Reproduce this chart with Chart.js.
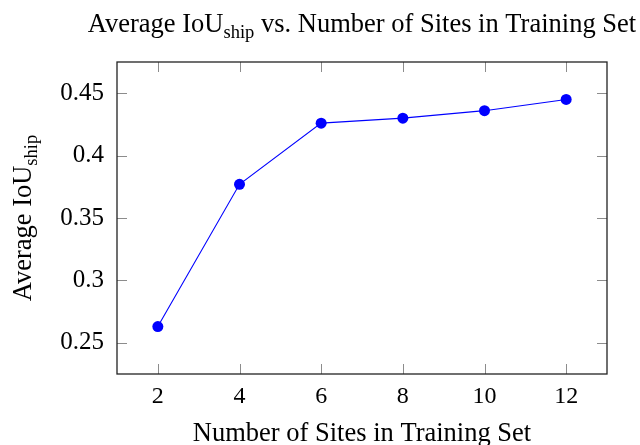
<!DOCTYPE html>
<html>
<head>
<meta charset="utf-8">
<script src="https://cdn.jsdelivr.net/npm/chart.js@4.4.0/dist/chart.umd.min.js"></script>
<style>
  html, body { margin: 0; padding: 0; background: #fff; }
  #wrap { width: 640px; height: 445px; }
</style>
</head>
<body>
<div id="wrap"><canvas id="chart" width="640" height="445"></canvas></div>
<script>
// Values
const sites = [2, 4, 6, 8, 10, 12];
const iouShip = [0.263, 0.377, 0.426, 0.430, 0.436, 0.445];
const xTicks = [2, 4, 6, 8, 10, 12];
const yTicks = [0.25, 0.3, 0.35, 0.4, 0.45];

const SERIF = '"Liberation Serif", "Times New Roman", serif';
const LABEL_SIZE = 26.5;

// draw text with a subscript part, left aligned at x
function drawSub(ctx, parts, x, y, size) {
    let cx = x;
    parts.forEach(function (p) {
        const s = p.sub ? size * 0.7 : size;
        ctx.font = s + 'px ' + SERIF;
        ctx.fillText(p.t, cx, y + (p.sub ? size * 0.22 : 0));
        cx += ctx.measureText(p.t).width;
    });
}
function widthSub(ctx, parts, size) {
    let w = 0;
    parts.forEach(function (p) {
        ctx.font = (p.sub ? size * 0.7 : size) + 'px ' + SERIF;
        w += ctx.measureText(p.t).width;
    });
    return w;
}

const framePlugin = {
    id: 'frame',
    afterDraw: function (chart) {
        const ctx = chart.ctx;
        const a = chart.chartArea;
        const xs = chart.scales.x, ys = chart.scales.y;
        const tl = 10;
        ctx.save();
        // inward ticks on all four sides
        ctx.strokeStyle = '#8c8c8c';
        ctx.lineWidth = 1;
        ctx.beginPath();
        xTicks.forEach(function (v) {
            const px = Math.round(xs.getPixelForValue(v)) + 0.5;
            ctx.moveTo(px, a.bottom); ctx.lineTo(px, a.bottom - tl);
            ctx.moveTo(px, a.top); ctx.lineTo(px, a.top + tl);
        });
        yTicks.forEach(function (v) {
            const py = Math.round(ys.getPixelForValue(v)) + 0.5;
            ctx.moveTo(a.left, py); ctx.lineTo(a.left + tl, py);
            ctx.moveTo(a.right, py); ctx.lineTo(a.right - tl, py);
        });
        ctx.stroke();
        // frame
        ctx.strokeStyle = '#222';
        ctx.lineWidth = 1.3;
        ctx.strokeRect(a.left, a.top, a.right - a.left, a.bottom - a.top);

        ctx.fillStyle = '#000';
        ctx.textBaseline = 'alphabetic';
        ctx.textAlign = 'left';
        const cx = (a.left + a.right) / 2;

        // title
        const title = [{ t: 'Average IoU' }, { t: 'ship', sub: true }, { t: ' vs. Number of Sites in Training Set' }];
        const tw = widthSub(ctx, title, LABEL_SIZE);
        drawSub(ctx, title, cx - tw / 2, 32, LABEL_SIZE);

        // x axis label
        const xl = [{ t: 'Number of Sites in Training Set' }];
        const xw = widthSub(ctx, xl, LABEL_SIZE);
        drawSub(ctx, xl, cx - xw / 2, 441, LABEL_SIZE);

        // y axis label, rotated
        const yl = [{ t: 'Average IoU' }, { t: 'ship', sub: true }];
        const yw = widthSub(ctx, yl, LABEL_SIZE);
        ctx.translate(31, (a.top + a.bottom) / 2);
        ctx.rotate(-Math.PI / 2);
        drawSub(ctx, yl, -yw / 2, 0, LABEL_SIZE);
        ctx.restore();
    }
};

new Chart(document.getElementById('chart').getContext('2d'), {
    type: 'line',
    data: {
        datasets: [{
            label: 'Average IoU',
            data: sites.map(function (s, i) { return { x: s, y: iouShip[i] }; }),
            borderColor: '#0000ff',
            backgroundColor: '#0000ff',
            borderWidth: 1.1,
            pointRadius: 5.5,
            pointBorderWidth: 0,
            pointBackgroundColor: '#0000ff',
            tension: 0,
            clip: false
        }]
    },
    options: {
        responsive: false,
        animation: false,
        devicePixelRatio: 1,
        layout: { padding: { left: 0, top: 62, right: 33, bottom: 0 } },
        plugins: {
            legend: { display: false },
            title: { display: false },
            tooltip: { enabled: false }
        },
        scales: {
            x: {
                type: 'linear',
                min: 1,
                max: 13,
                afterBuildTicks: function (s) { s.ticks = xTicks.map(function (v) { return { value: v }; }); },
                afterFit: function (s) { s.height = 71; },
                grid: { display: false },
                border: { display: false },
                ticks: {
                    color: '#000',
                    padding: 0,
                    maxRotation: 0,
                    font: { family: SERIF, size: 24 }
                }
            },
            y: {
                type: 'linear',
                min: 0.225,
                max: 0.475,
                afterBuildTicks: function (s) { s.ticks = yTicks.map(function (v) { return { value: v }; }); },
                afterFit: function (s) { s.width = 117; },
                grid: { display: false },
                border: { display: false },
                ticks: {
                    color: '#000',
                    padding: 5,
                    font: { family: SERIF, size: 25 },
                    callback: function (v) { return String(Number(v.toFixed(2))); }
                }
            }
        }
    },
    plugins: [framePlugin]
});
</script>
</body>
</html>
